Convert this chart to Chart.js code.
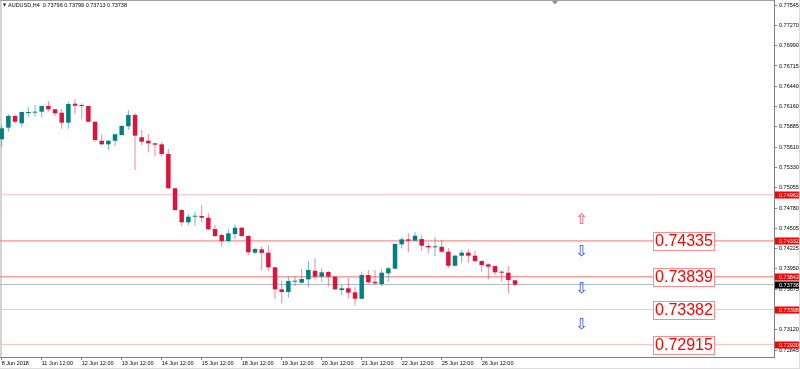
<!DOCTYPE html>
<html>
<head>
<meta charset="utf-8">
<title>AUDUSD,H4</title>
<script src="https://cdn.jsdelivr.net/npm/chart.js@4.4.0/dist/chart.umd.min.js"></script>
<style>
  html, body { margin: 0; padding: 0; background: #fff; }
  #wrap { width: 800px; height: 369px; }
</style>
</head>
<body>
<div id="wrap"><canvas id="grafico" width="800" height="369"></canvas></div>
<script>
// AUDUSD H4 candles, 8 Jun 2018 12:00 .. 27 Jun 2018 08:00 (one per bar)
const opens = [
  0.75717, 0.75875, 0.76034, 0.75935, 0.76075, 0.76079, 0.76093, 0.76170, 0.76125, 0.76079,
  0.75943, 0.76202, 0.76184, 0.76170, 0.75956, 0.75697, 0.75648, 0.75697, 0.75775, 0.75894,
  0.76048, 0.75744, 0.75697, 0.75662, 0.75648, 0.75516, 0.75049, 0.74753, 0.74586, 0.74662,
  0.74672, 0.74648, 0.74494, 0.74413, 0.74331, 0.74426, 0.74512, 0.74399, 0.74172, 0.74218,
  0.74172, 0.73973, 0.73673, 0.73636, 0.73776, 0.73763, 0.73809, 0.73926, 0.73845, 0.73909,
  0.73845, 0.73663, 0.73687, 0.73632, 0.73545, 0.73868, 0.73776, 0.73745, 0.73891, 0.73954,
  0.74286, 0.74354, 0.74335, 0.74358, 0.74263, 0.74245, 0.74253, 0.74185, 0.73994, 0.74131,
  0.74172, 0.74131, 0.74058, 0.74013, 0.73990, 0.73913, 0.73899, 0.73796
];
const highs = [
  0.75911, 0.76061, 0.76057, 0.76095, 0.76152, 0.76184, 0.76175, 0.76238, 0.76133, 0.76129,
  0.76229, 0.76261, 0.76207, 0.76175, 0.75960, 0.75785, 0.75707, 0.75798, 0.75911, 0.76112,
  0.76079, 0.75843, 0.75789, 0.75670, 0.75676, 0.75584, 0.75055, 0.74767, 0.74699, 0.74730,
  0.74821, 0.74708, 0.74549, 0.74436, 0.74490, 0.74558, 0.74526, 0.74413, 0.74240, 0.74253,
  0.74276, 0.73981, 0.73786, 0.73845, 0.73854, 0.73949, 0.74058, 0.74095, 0.73959, 0.73922,
  0.73850, 0.73731, 0.73823, 0.73708, 0.73913, 0.73936, 0.73936, 0.73945, 0.73981, 0.74300,
  0.74381, 0.74436, 0.74449, 0.74413, 0.74308, 0.74381, 0.74345, 0.74231, 0.74140, 0.74208,
  0.74218, 0.74199, 0.74072, 0.74027, 0.73994, 0.73936, 0.73990, 0.73799
];
const lows = [
  0.75616, 0.75820, 0.75935, 0.75888, 0.76024, 0.76024, 0.76016, 0.76093, 0.76034, 0.75861,
  0.75861, 0.76061, 0.75989, 0.75950, 0.75684, 0.75639, 0.75571, 0.75625, 0.75766, 0.75843,
  0.75298, 0.75639, 0.75539, 0.75485, 0.75479, 0.75045, 0.74744, 0.74535, 0.74549, 0.74539,
  0.74580, 0.74481, 0.74390, 0.74253, 0.74308, 0.74354, 0.74381, 0.74140, 0.74150, 0.73936,
  0.73926, 0.73541, 0.73482, 0.73558, 0.73718, 0.73755, 0.73700, 0.73809, 0.73776, 0.73708,
  0.73663, 0.73595, 0.73545, 0.73455, 0.73537, 0.73755, 0.73731, 0.73718, 0.73776, 0.73945,
  0.74231, 0.74177, 0.74330, 0.74199, 0.74172, 0.74127, 0.74163, 0.73967, 0.73990, 0.74035,
  0.74035, 0.74049, 0.73913, 0.73809, 0.73868, 0.73776, 0.73618, 0.73713
];
const closes = [
  0.75866, 0.76034, 0.75956, 0.76088, 0.76084, 0.76093, 0.76170, 0.76125, 0.76071, 0.75943,
  0.76197, 0.76174, 0.76170, 0.75956, 0.75707, 0.75648, 0.75697, 0.75785, 0.75898, 0.76048,
  0.75766, 0.75684, 0.75662, 0.75643, 0.75516, 0.75049, 0.74753, 0.74586, 0.74662, 0.74672,
  0.74648, 0.74490, 0.74399, 0.74331, 0.74436, 0.74512, 0.74399, 0.74177, 0.74222, 0.74170,
  0.73973, 0.73673, 0.73636, 0.73786, 0.73790, 0.73813, 0.73936, 0.73845, 0.73905, 0.73845,
  0.73673, 0.73687, 0.73627, 0.73545, 0.73868, 0.73768, 0.73755, 0.73899, 0.73959, 0.74290,
  0.74354, 0.74335, 0.74403, 0.74267, 0.74245, 0.74253, 0.74185, 0.73994, 0.74131, 0.74172,
  0.74131, 0.74058, 0.74004, 0.73981, 0.73905, 0.73899, 0.73800, 0.73738
];

// time axis: bar index of each label
const xTickIdx = [0, 6, 12, 18, 24, 30, 36, 42, 48, 54, 60, 66, 72];
const xTickLabels = ['8 Jun 2018', '11 Jun 12:00', '12 Jun 12:00', '13 Jun 12:00', '14 Jun 12:00',
  '15 Jun 12:00', '18 Jun 12:00', '19 Jun 12:00', '20 Jun 12:00', '21 Jun 12:00',
  '22 Jun 12:00', '25 Jun 12:00', '26 Jun 12:00'];

// price axis
const yTicks = [0.77545, 0.77270, 0.76990, 0.76715, 0.76440, 0.76160, 0.75885, 0.75610, 0.75330,
  0.75055, 0.74780, 0.74505, 0.74225, 0.73950, 0.73675, 0.73400, 0.73120, 0.72845];

// horizontal lines and their labels
const levels = [0.74962, 0.74332, 0.73843, 0.73398, 0.72920];
const levelStrong = [false, true, true, false, false];
const levelBoxes = ['', '0.74335', '0.73839', '0.73382', '0.72915'];
const bidPrice = 0.73738;

// arrows
const arrowsUp = [0.74613];
const arrowsDown = [0.74181, 0.73681, 0.73191];

const titulo = 'AUDUSD,H4  0.73796 0.73799 0.73713 0.73738';

const xMin = -0.255, xMax = 115.85;
const arrowBar = 87;
const boxBar = 102.3;

const bull = '#008080';
const bear = '#dc143c';
const smallFont = '5.5px "Liberation Sans"';

const bodyColors = closes.map((c, i) => c >= opens[i] ? bull : bear);
const wickColors = closes.map((c, i) => c >= opens[i] ? 'rgba(0,128,128,0.55)' : 'rgba(220,20,60,0.5)');

const datasets = [
  {
    type: 'bar', label: 'wick',
    data: lows.map((l, i) => ({ x: i, y: [l, highs[i]] })),
    backgroundColor: wickColors, maxBarThickness: 1, grouped: false, order: 2
  },
  {
    type: 'bar', label: 'body',
    data: opens.map((o, i) => ({ x: i, y: [o, closes[i]] })),
    backgroundColor: bodyColors, maxBarThickness: 4.5, minBarLength: 1, grouped: false, order: 1
  }
];
levels.forEach((lv, k) => {
  datasets.push({
    type: 'line', label: 'level' + k,
    data: [{ x: xMin, y: lv }, { x: xMax, y: lv }],
    borderColor: levelStrong[k] ? '#ff6e6e' : '#ffc2c2', borderWidth: 1,
    pointRadius: 0, order: 5
  });
});
datasets.push({
  type: 'line', label: 'bid',
  data: [{ x: xMin, y: bidPrice }, { x: xMax, y: bidPrice }],
  borderColor: '#b3b8c2', borderWidth: 1, pointRadius: 0, order: 4
});

// extra drawing: frame, labels, arrows, title
const extras = {
  id: 'extras',
  beforeDatasetsDraw(chart) {
    const ctx = chart.ctx, a = chart.chartArea;
    ctx.save();
    ctx.fillStyle = '#d4d4d4';
    ctx.fillRect(0, 0, 2, a.bottom);
    ctx.fillStyle = '#a0a0a0';
    ctx.fillRect(0, 0, a.right, 1);
    ctx.restore();
  },
  afterDatasetsDraw(chart) {
    const ctx = chart.ctx, x = chart.scales.x, y = chart.scales.y;
    ctx.save();
    // arrows
    ctx.font = '15px "DejaVu Sans"';
    ctx.textAlign = 'center';
    ctx.textBaseline = 'middle';
    const ax = x.getPixelForValue(arrowBar);
    ctx.fillStyle = '#ff4d62';
    arrowsUp.forEach(p => ctx.fillText('\u21E7', ax, y.getPixelForValue(p)));
    ctx.fillStyle = '#2b4cff';
    arrowsDown.forEach(p => ctx.fillText('\u21E9', ax, y.getPixelForValue(p)));

    // price boxes on the lines
    ctx.font = '16px "Liberation Sans"';
    const bx = x.getPixelForValue(boxBar);
    levels.forEach((lv, k) => {
      const txt = levelBoxes[k];
      if (!txt) return;
      const w = Math.round(ctx.measureText(txt).width + 3);
      const h = 17;
      const cy = Math.round(y.getPixelForValue(lv));
      const left = Math.round(bx - w / 2);
      ctx.fillStyle = '#fff';
      ctx.fillRect(left, cy - 8, w, h);
      ctx.strokeStyle = '#ff8c8c';
      ctx.lineWidth = 1;
      ctx.strokeRect(left + 0.5, cy - 8.5, w, h + 1);
      ctx.fillStyle = '#ff0000';
      ctx.fillText(txt, left + w / 2 + 0.5, cy + 1);
    });
    ctx.restore();
  },
  afterDraw(chart) {
    const ctx = chart.ctx, a = chart.chartArea, y = chart.scales.y;
    ctx.save();
    ctx.font = smallFont;
    ctx.textBaseline = 'middle';
    ctx.textAlign = 'left';
    // axis price tags
    const tag = (p, bg, txt) => {
      const cy = y.getPixelForValue(p);
      ctx.fillStyle = bg;
      ctx.fillRect(a.right + 1, Math.round(cy) - 3.5, 24, 7);
      ctx.fillStyle = '#fff';
      ctx.fillText(txt, a.right + 5, cy + 0.5);
    };
    levels.forEach(lv => tag(lv, '#ff0000', lv.toFixed(5)));
    tag(bidPrice, '#000', bidPrice.toFixed(5));

    // title
    ctx.fillStyle = '#000';
    ctx.beginPath();
    ctx.moveTo(3, 3.5); ctx.lineTo(6, 3.5); ctx.lineTo(4.5, 6.5); ctx.closePath();
    ctx.fill();
    ctx.fillText(titulo, 8, 5.5);

    // chart shift marker
    ctx.fillStyle = '#909090';
    ctx.beginPath();
    ctx.moveTo(552, 1); ctx.lineTo(558, 1); ctx.lineTo(555, 4.5); ctx.closePath();
    ctx.fill();

    // window edges
    ctx.fillStyle = '#dcdcdc';
    ctx.fillRect(799, 0, 1, 369);
    ctx.fillRect(0, 368, 800, 1);
    ctx.restore();
  }
};

const ctx = document.getElementById('grafico').getContext('2d');
const grafico = new Chart(ctx, {
  type: 'bar',
  data: { datasets: datasets },
  options: {
    responsive: false,
    animation: false,
    layout: { padding: 0 },
    plugins: { legend: { display: false }, tooltip: { enabled: false } },
    scales: {
      x: {
        type: 'linear', min: xMin, max: xMax, offset: false,
        afterBuildTicks: s => { s.ticks = xTickIdx.map(v => ({ value: v })); },
        afterFit: s => { s.height = 12; s.paddingLeft = 0; s.paddingRight = 0; },
        ticks: {
          callback: (v, i) => xTickLabels[i],
          align: 'start', autoSkip: false, maxRotation: 0, minRotation: 0,
          padding: 0, color: '#000', font: { family: 'Liberation Sans', size: 5.5 }
        },
        grid: { drawOnChartArea: false, offset: false, tickLength: 3, color: '#808080' },
        border: { display: true, color: '#808080', width: 1 }
      },
      y: {
        type: 'linear', position: 'right', min: 0.72751, max: 0.77614,
        afterBuildTicks: s => { s.ticks = yTicks.map(v => ({ value: v })); },
        afterFit: s => { s.width = 26; s.paddingTop = 0; s.paddingBottom = 0; },
        ticks: {
          callback: v => v.toFixed(5),
          autoSkip: false, padding: 2, color: '#000',
          font: { family: 'Liberation Sans', size: 5.5 }
        },
        grid: { drawOnChartArea: false, tickLength: 3, color: '#808080' },
        border: { display: true, color: '#808080', width: 1 }
      }
    }
  },
  plugins: [extras]
});
</script>
</body>
</html>
